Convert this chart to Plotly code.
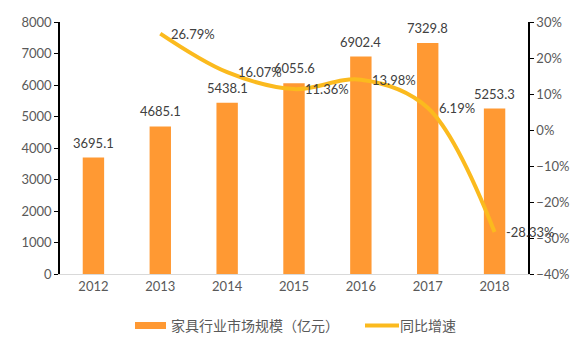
import plotly.graph_objects as go

years = ["2012", "2013", "2014", "2015", "2016", "2017", "2018"]
market_size = [3695.1, 4685.1, 5438.1, 6055.6, 6902.4, 7329.8, 5253.3]
growth = [None, 26.79, 16.07, 11.36, 13.98, 6.19, -28.33]
bar_name = "家具行业市场规模（亿元）"
line_name = "同比增速"

font_fam = "Lato, 'Noto Sans CJK SC', sans-serif"
cjk_fam = "'Noto Sans CJK SC', sans-serif"
bar_color = "#FF9933"
line_color = "#FBBA1E"
label_color = "#404040"

fig = go.Figure()
fig.add_trace(go.Bar(
    x=years, y=market_size, name=bar_name,
    marker=dict(color=bar_color, line=dict(width=0)),
    width=0.32, showlegend=False,
))
fig.add_trace(go.Scatter(
    x=years, y=growth, name=line_name, yaxis="y2",
    mode="lines", showlegend=False,
    line=dict(color=line_color, width=4, shape="spline", smoothing=1.0),
    cliponaxis=False, connectgaps=False,
))

# data labels (category index positions)
for i, v in enumerate(market_size):
    fig.add_annotation(x=i, y=v, xref="x", yref="y", text=f"{v:.1f}",
                       showarrow=False, yshift=15, yanchor="middle", xanchor="center",
                       font=dict(size=13, color=label_color, family=font_fam))
for i, g in enumerate(growth):
    if g is None:
        continue
    fig.add_annotation(x=i, y=g, xref="x", yref="y2", text=f"{g:.2f}%",
                       showarrow=False, xshift=9, yanchor="middle", xanchor="left",
                       font=dict(size=13, color=label_color, family=font_fam))

# manual legend (paper pixel positions converted to paper fractions)
W, H = 586, 351
ml, mr, mt, mb = 60, 58, 22, 77
pw, ph = W - ml - mr, H - mt - mb
def px(x):
    return (x - ml) / pw
def py(y):
    return (H - mb - y) / ph

fig.add_shape(type="rect", xref="paper", yref="paper",
              x0=px(135), x1=px(166), y0=py(329), y1=py(322),
              fillcolor=bar_color, line=dict(width=0))
fig.add_shape(type="line", xref="paper", yref="paper",
              x0=px(365), x1=px(399), y0=py(325.5), y1=py(325.5),
              line=dict(color=line_color, width=4))
fig.add_annotation(xref="paper", yref="paper", x=px(169), y=py(325),
                   text=bar_name, showarrow=False, xanchor="left", yanchor="middle",
                   font=dict(size=14, color="#595959", family=cjk_fam))
fig.add_annotation(xref="paper", yref="paper", x=px(398), y=py(325),
                   text=line_name, showarrow=False, xanchor="left", yanchor="middle",
                   font=dict(size=14, color="#595959", family=cjk_fam))

fig.update_layout(
    width=W, height=H,
    margin=dict(l=ml, r=mr, t=mt, b=mb),
    plot_bgcolor="white", paper_bgcolor="white",
    font=dict(family=font_fam, size=13, color="#595959"),
    showlegend=False,
    xaxis=dict(type="category", range=[-0.5, 6.5], showline=True, linecolor="#D9D9D9",
               linewidth=1, ticks="", showgrid=False, tickfont=dict(size=13, color="#595959")),
    yaxis=dict(range=[0, 8000], dtick=1000, showline=True, linecolor="black", linewidth=1.5,
               ticks="outside", ticklen=4, tickcolor="black", showgrid=False, zeroline=False,
               tickfont=dict(size=13, color="#595959")),
    yaxis2=dict(range=[-40, 30], dtick=10, ticksuffix="%", overlaying="y", side="right",
                showline=True, linecolor="black", linewidth=1.5, ticks="outside", ticklen=4,
                tickcolor="black", showgrid=False, zeroline=False,
                tickfont=dict(size=13, color="#595959")),
)

fig.write_html("out.html")
